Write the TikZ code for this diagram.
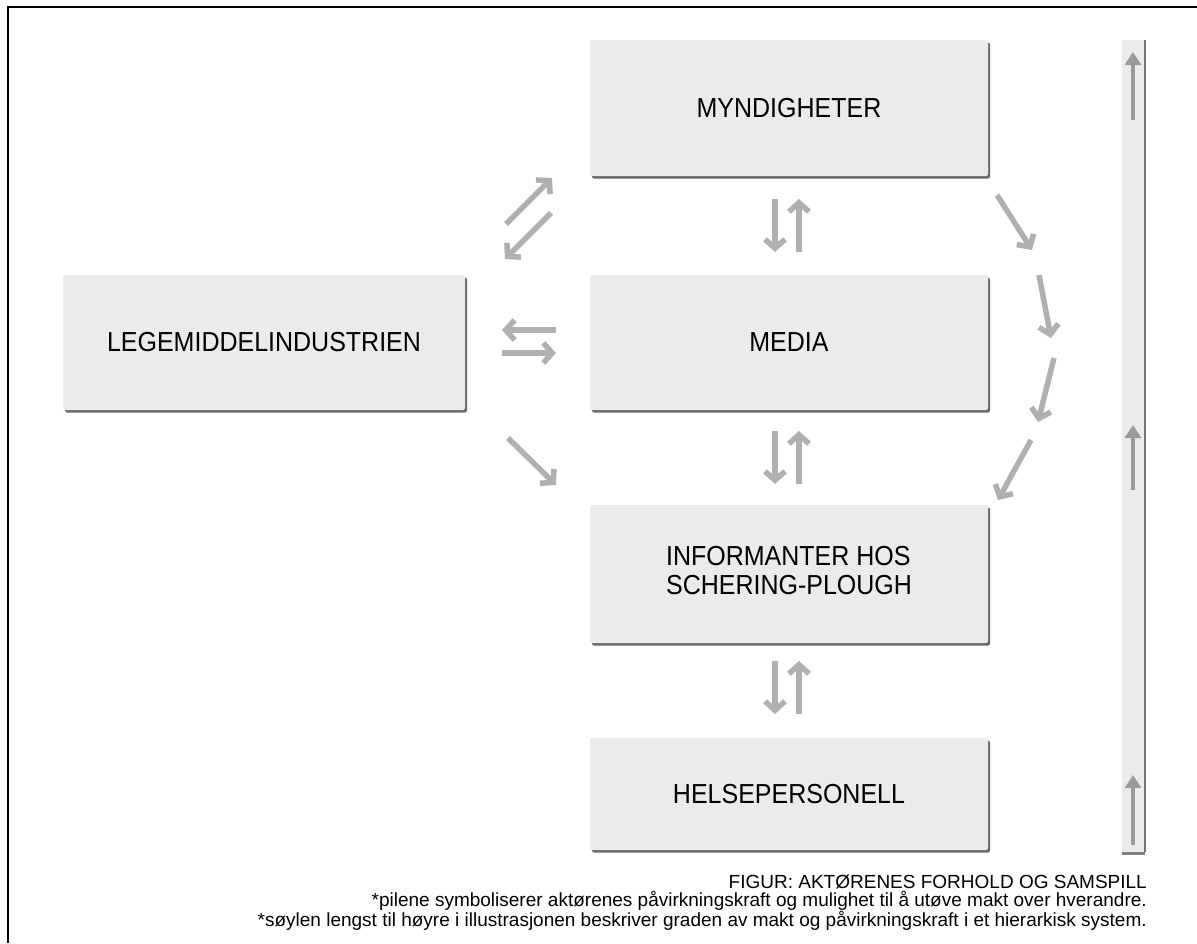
\documentclass[tikz,border=0pt]{standalone}
\usepackage{fontspec}
\setmainfont{Liberation Sans}
\usetikzlibrary{arrows.meta,shadows}
\definecolor{boxfill}{HTML}{EBEBEB}
\definecolor{arrowgray}{HTML}{B0B0B0}
\definecolor{colarrow}{HTML}{9A9A9A}
\newcommand{\tallt}[1]{\scalebox{1}[1.1]{#1}}
\tikzset{
  box/.style={rectangle, rounded corners=2pt, fill=boxfill, inner sep=0pt,
    font=\fontsize{25}{27}\selectfont,
    drop shadow={shadow xshift=2pt, shadow yshift=-2.5pt, fill=black!65, opacity=0.9}},
  flow/.style={draw=arrowgray, line width=5.5pt,
    -{Straight Barb[length=9pt,width=20pt,line width=5.5pt]}},
  colflow/.style={draw=colarrow, line width=4pt,
    -{Triangle[length=13pt,width=16pt]}},
}
\begin{document}
\begin{tikzpicture}[x=1pt,y=-1pt]
\useasboundingbox (0,0) rectangle (1197,943);
\fill[white] (0,0) rectangle (1197,943);
% outer frame (only top and left visible)
\draw[line width=2.5pt, black] (8,943) -- (8,7) -- (1197,7);

% boxes
\node[box, minimum width=398pt, minimum height=136pt] (myn) at (789,108) {\tallt{MYNDIGHETER}};
\node[box, minimum width=398pt, minimum height=135pt] (media) at (789,342.5) {\tallt{MEDIA}};
\node[box, minimum width=402pt, minimum height=135pt] (lege) at (264,342.5) {\tallt{LEGEMIDDELINDUSTRIEN}};
\node[box, minimum width=398pt, minimum height=138pt] (info) at (789,574)
  {\tallt{\begin{tabular}{@{}l@{}}INFORMANTER HOS\\[-1pt]SCHERING-PLOUGH\end{tabular}}};
\node[box, minimum width=398pt, minimum height=112pt] (helse) at (789,794) {\tallt{HELSEPERSONELL}};

% hierarchy column
\node[rectangle, fill=boxfill, minimum width=23pt, minimum height=812pt, inner sep=0pt,
  drop shadow={shadow xshift=0pt, shadow yshift=-2.5pt, fill=black!55, opacity=0.9}] (col) at (1133.5,446) {};
\draw[line width=2pt, black!55] (col.north east) -- (col.south east);

% coordinates for arrows
\coordinate (d1s) at (506,224); \coordinate (d1e) at (552,178);
\coordinate (d2s) at (551,213); \coordinate (d2e) at (505,259);
\coordinate (h1s) at (556,330); \coordinate (h1e) at (502,330);
\coordinate (h2s) at (502,353); \coordinate (h2e) at (556,353);
\coordinate (d3s) at (508,438); \coordinate (d3e) at (556,485);
\coordinate (v1s) at (775,199); \coordinate (v1e) at (775,252);
\coordinate (v2s) at (799,252); \coordinate (v2e) at (799,199);
\coordinate (v3s) at (775,431); \coordinate (v3e) at (775,484);
\coordinate (v4s) at (799,484); \coordinate (v4e) at (799,431);
\coordinate (v5s) at (775,661); \coordinate (v5e) at (775,714);
\coordinate (v6s) at (799,714); \coordinate (v6e) at (799,661);
\coordinate (r1s) at (997,195); \coordinate (r1e) at (1032,250);
\coordinate (r2s) at (1039,275); \coordinate (r2e) at (1051,338);
\coordinate (r3s) at (1054,358); \coordinate (r3e) at (1038,422);
\coordinate (r4s) at (1031,440); \coordinate (r4e) at (998,500);
\coordinate (c1s) at (1133,120); \coordinate (c1e) at (1133,52);
\coordinate (c2s) at (1133,490); \coordinate (c2e) at (1133,425);
\coordinate (c3s) at (1133,845); \coordinate (c3e) at (1133,775);

\foreach \a in {d1,d2,h1,h2,d3,v1,v2,v3,v4,v5,v6,r1,r2,r3,r4}
  \draw[flow] (\a s) -- (\a e);
\foreach \a in {c1,c2,c3}
  \draw[colflow] (\a s) -- (\a e);

% caption
\node[anchor=north east, align=right, inner sep=0pt,
  font=\fontsize{19}{17.5}\selectfont] (cap) at (1147,875)
  {FIGUR: AKTØRENES FORHOLD OG SAMSPILL\\
   *pilene symboliserer aktørenes påvirkningskraft og mulighet til å utøve makt over hverandre.\\
   *søylen lengst til høyre i illustrasjonen beskriver graden av makt og påvirkningskraft i et hierarkisk system.};
\end{tikzpicture}
\end{document}
